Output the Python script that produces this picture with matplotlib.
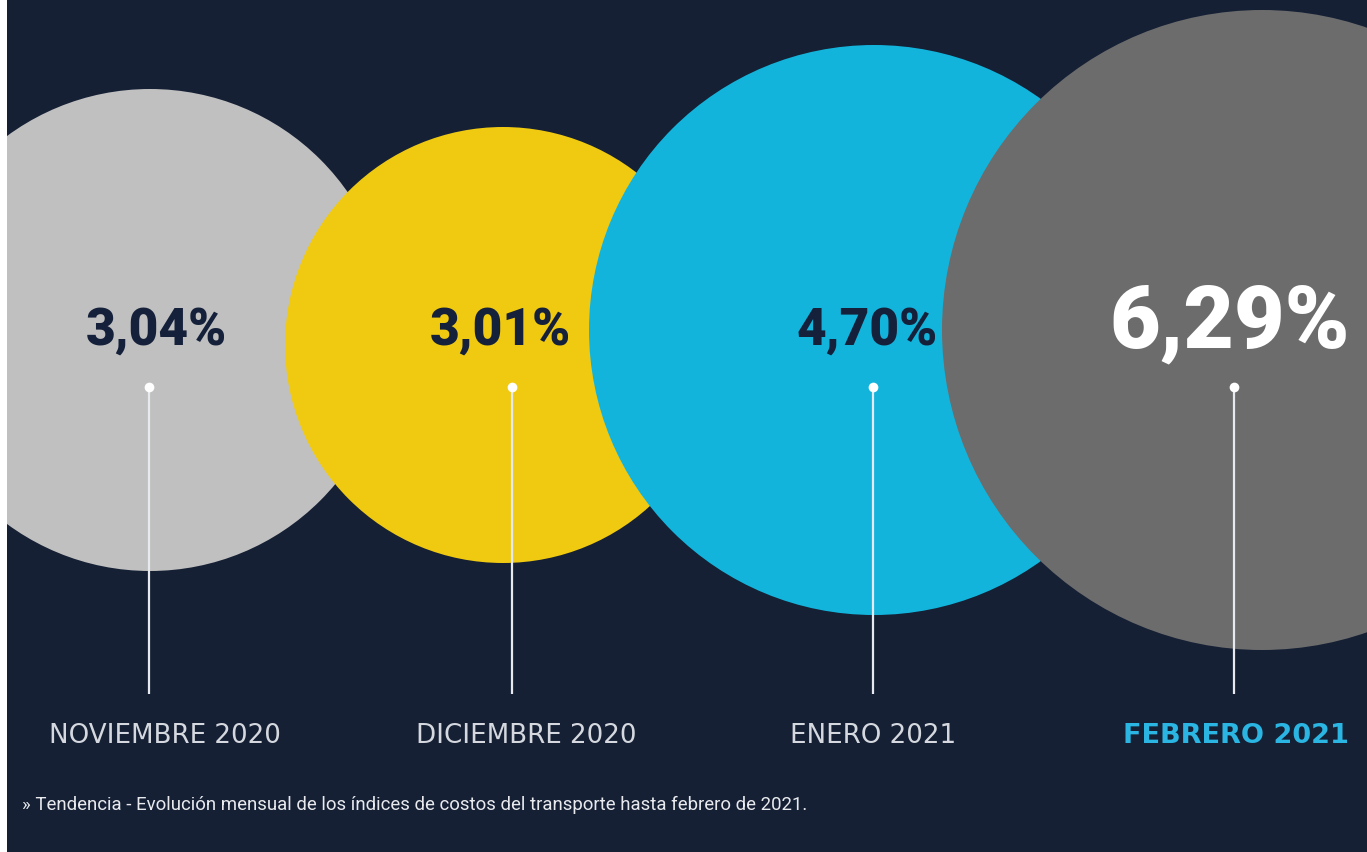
import matplotlib
matplotlib.use("Agg")
import matplotlib.pyplot as plt
from matplotlib.patches import Circle, Rectangle

# ---- data ----
months = ["NOVIEMBRE 2020", "DICIEMBRE 2020", "ENERO 2021", "FEBRERO 2021"]
values = [3.04, 3.01, 4.70, 6.29]
value_labels = ["3,04%", "3,01%", "4,70%", "6,29%"]
caption = "» Tendencia - Evolución mensual de los índices de costos del transporte hasta febrero de 2021."

# ---- layout / style (pixel coordinates) ----
W, H = 1367, 853
BG = "#152035"
circle_cx = [150, 503, 874, 1262]
circle_cy = [331, 346, 331, 331]
circle_r = [241, 218, 285, 320]
circle_colors = ["#c0c0c0", "#f0c911", "#13b4dc", "#6c6c6c"]
text_x = [156, 500, 867, 1230]
text_y = [331, 331, 331, 324]
text_sizes = [37, 37, 37, 63]
text_colors = ["#15213a", "#15213a", "#15213a", "#ffffff"]
line_x = [149, 512, 873, 1234]
dot_y = 388
line_bottom = 695
label_x = [165, 526, 873, 1236]
label_y = 736
label_colors = ["#d5d9df", "#d5d9df", "#d5d9df", "#2bb5e3"]
label_weights = ["normal", "normal", "normal", "bold"]
label_sizes = [18.8, 18.8, 18.8, 19.5]

fig = plt.figure(figsize=(W / 100, H / 100), dpi=100)
fig.patch.set_facecolor(BG)
ax = fig.add_axes([0, 0, 1, 1])
ax.set_xlim(0, W)
ax.set_ylim(H, 0)
ax.set_axis_off()
ax.set_facecolor(BG)

ax.add_patch(Rectangle((0, 0), W, H, facecolor=BG, edgecolor="none", zorder=0))

for i in range(len(values)):
    ax.add_patch(Circle((circle_cx[i], circle_cy[i]), circle_r[i],
                        facecolor=circle_colors[i], edgecolor="none", zorder=1 + i))

for i in range(len(values)):
    ax.plot([line_x[i], line_x[i]], [dot_y, line_bottom], color="#e6e9ee",
            lw=1.6, zorder=10, solid_capstyle="butt")
    ax.plot([line_x[i]], [dot_y], marker="o", ms=7, color="#ffffff",
            mec="none", zorder=11)
    ax.text(text_x[i], text_y[i], value_labels[i], ha="center", va="center",
            fontsize=text_sizes[i], fontweight="black", family=["Roboto", "DejaVu Sans"],
            color=text_colors[i], zorder=12)
    ax.text(label_x[i], label_y, months[i], ha="center", va="center",
            fontsize=label_sizes[i], fontweight=label_weights[i], family=["DejaVu Sans"],
            color=label_colors[i], zorder=12)

ax.text(22, 805, caption, ha="left", va="center", fontsize=13.4,
        family=["Roboto", "DejaVu Sans"], color="#e8eaee", zorder=12)

# white strip at left edge
ax.add_patch(Rectangle((0, 0), 7, H, facecolor="#ffffff", edgecolor="none", zorder=20))

fig.savefig("out.png", dpi=100, facecolor=BG)
